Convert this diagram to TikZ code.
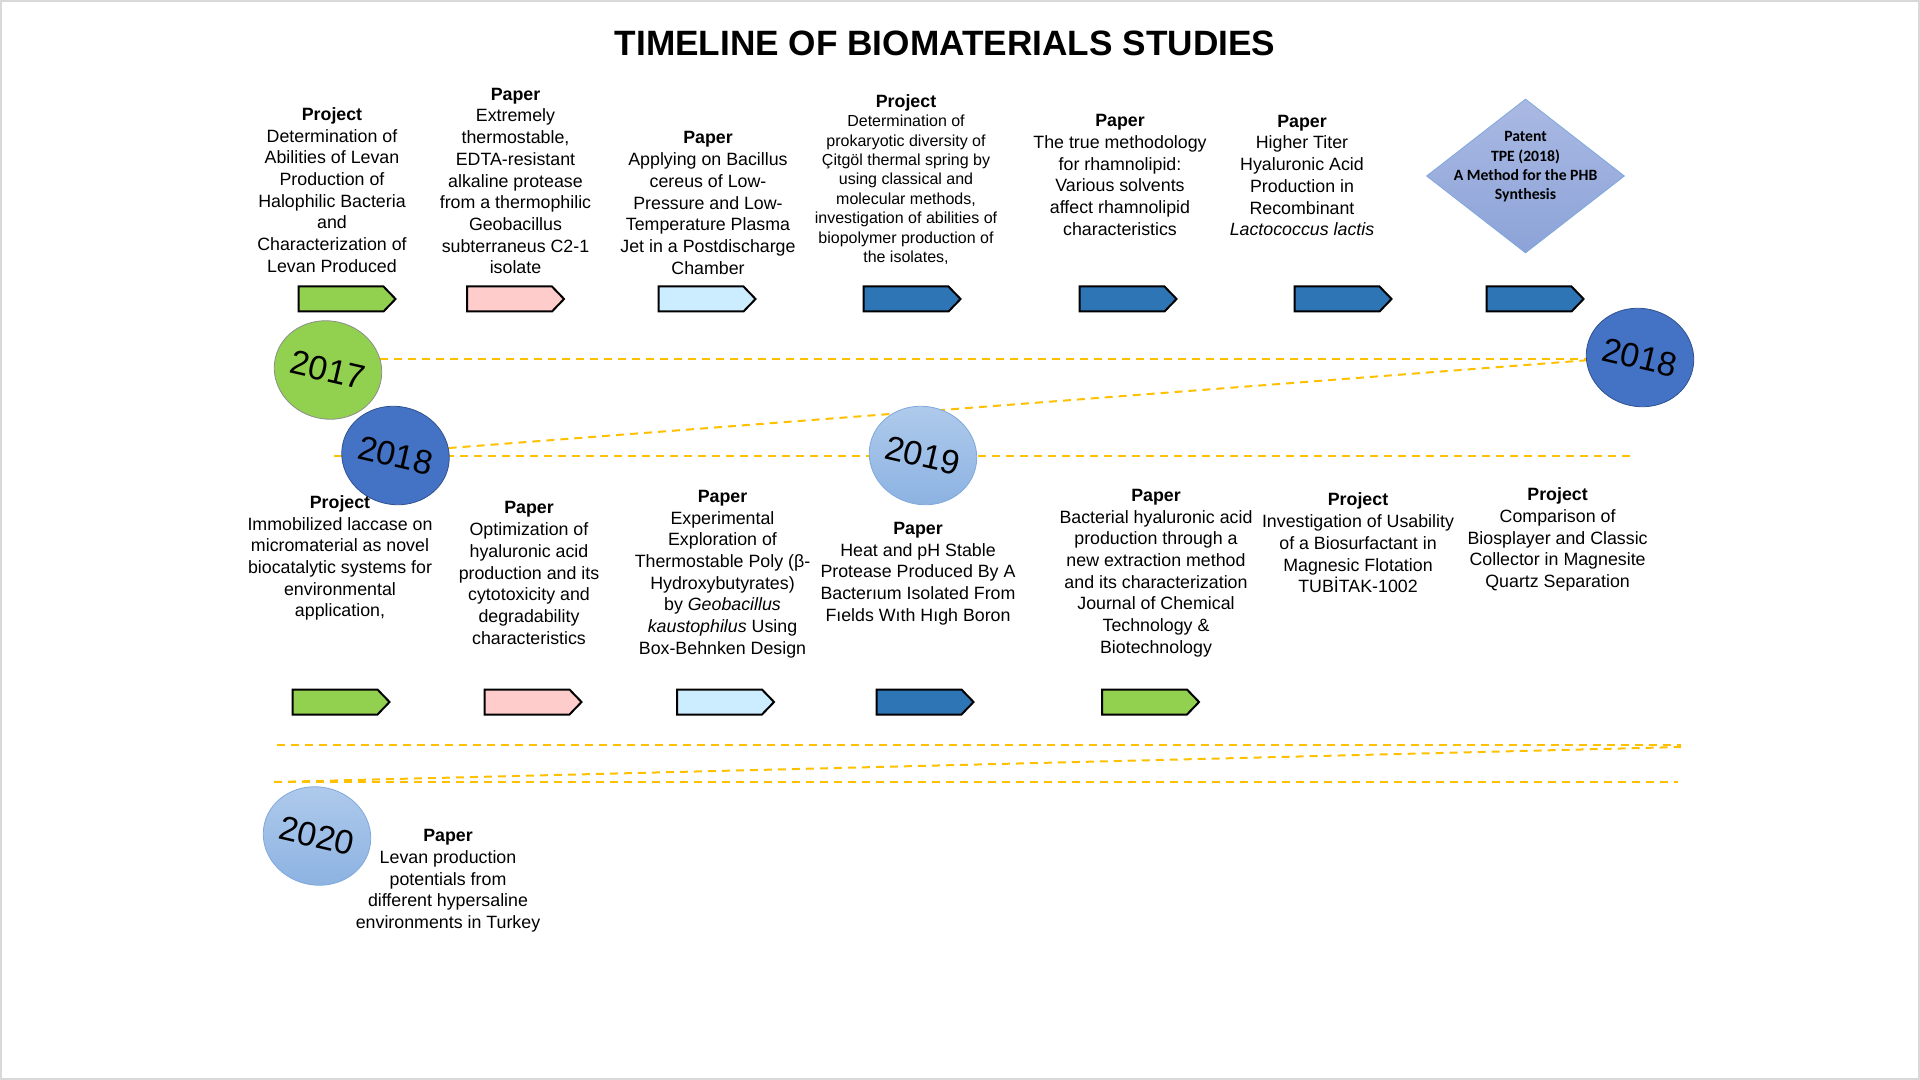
\documentclass[tikz,border=0pt]{standalone}
\usepackage{fontspec}
\setmainfont{Liberation Sans}
\newfontfamily\calibri{Carlito}
\usepackage{tikz}
\usetikzlibrary{shapes.geometric, shapes.symbols, positioning, backgrounds}
\definecolor{tagGreen}{HTML}{92D050}
\definecolor{tagPink}{HTML}{FFCCCC}
\definecolor{tagSky}{HTML}{CCECFF}
\definecolor{tagBlue}{HTML}{2E75B6}
\definecolor{yearBlue}{HTML}{4472C4}
\definecolor{yearEdge}{HTML}{2F528F}
\definecolor{paleTop}{HTML}{B0CBEC}
\definecolor{paleBot}{HTML}{8DB3E2}
\definecolor{paleEdge}{HTML}{7FA8DC}
\definecolor{gemTop}{HTML}{AAB9E3}
\definecolor{gemBot}{HTML}{8CA3D8}
\definecolor{dashGold}{HTML}{FFC000}
\tikzstyle{entry} = [align=center, inner sep=0pt, font=\fontsize{8.9}{10.85}\selectfont]
\tikzstyle{tag} = [signal, signal to=east, signal pointer angle=92, minimum width=48.5pt, minimum height=12.5pt, inner sep=0pt, draw=black, line width=1pt]
\tikzstyle{year} = [ellipse, minimum width=54pt, minimum height=49pt, inner sep=0pt, rotate=-13, font=\fontsize{17}{17}\selectfont]
\tikzstyle{timeline} = [draw=dashGold, line width=1pt, dash pattern=on 4pt off 3pt]

\begin{document}
\begin{tikzpicture}[x=0.5pt, y=-0.5pt]
        \useasboundingbox (0,0) rectangle (1920,1080);
        \draw [black!15, line width=0.6pt] (1,1) rectangle (1919,1079);

        % Title
        \node (title) at (945,43) {\fontsize{17.6}{20}\selectfont\bfseries TIMELINE OF BIOMATERIALS STUDIES};

        % Upper row
        \node (t1) [entry] at (332,190) {\textbf{Project}\\Determination of\\Abilities of Levan\\Production of\\Halophilic Bacteria\\and\\Characterization of\\Levan Produced};
        \node (t2) [entry] at (515.5,181) {\textbf{Paper}\\Extremely\\thermostable,\\EDTA-resistant\\alkaline protease\\from a thermophilic\\Geobacillus\\subterraneus C2-1\\isolate};
        \node (t3) [entry] at (708,203) {\textbf{Paper}\\Applying on Bacillus\\cereus of Low-\\Pressure and Low-\\Temperature Plasma\\Jet in a Postdischarge\\Chamber};
        \node (t4) [entry, font=\fontsize{8}{9.7}\selectfont] at (906,179.5) {{\fontsize{8.9}{9.7}\selectfont\bfseries Project}\\Determination of\\prokaryotic diversity of\\Çitgöl thermal spring by\\using classical and\\molecular methods,\\investigation of abilities of\\biopolymer production of\\the isolates,};
        \node (t5) [entry] at (1120,175) {\textbf{Paper}\\The true methodology\\for rhamnolipid:\\Various solvents\\affect rhamnolipid\\characteristics};
        \node (t6) [entry] at (1302,175.5) {\textbf{Paper}\\Higher Titer\\Hyaluronic Acid\\Production in\\Recombinant\\\textit{Lactococcus lactis}};
        \node (patent) [diamond, minimum width=99pt, minimum height=77pt, inner sep=0pt, draw=paleEdge, top color=gemTop, bottom color=gemBot] at (1525.5,176) {};
        \node (patentlbl) [align=center, inner sep=0pt, font=\calibri\bfseries\fontsize{7.85}{9.65}\selectfont] at (1525.5,167) {Patent\\TPE (2018)\\A Method for the PHB\\Synthesis};

        \node (a1) [tag, fill=tagGreen] at (341,299) {};
        \node (a2) [tag, fill=tagPink] at (509.5,299) {};
        \node (a3) [tag, fill=tagSky] at (701,299) {};
        \node (a4) [tag, fill=tagBlue] at (906,299) {};
        \node (a5) [tag, fill=tagBlue] at (1122,299) {};
        \node (a6) [tag, fill=tagBlue] at (1337,299) {};
        \node (a7) [tag, fill=tagBlue] at (1529,299) {};

        % Years
        \node (y2017) [year, fill=tagGreen, draw=black!45] at (328,370) {2017};
        \node (y2018a) [year, fill=yearBlue, draw=yearEdge] at (395.5,455.5) {2018};
        \node (y2019) [year, top color=paleTop, bottom color=paleBot, draw=paleEdge] at (923,455.5) {2019};
        \node (y2018b) [year, fill=yearBlue, draw=yearEdge] at (1640,357.5) {2018};
        \node (y2020) [year, top color=paleTop, bottom color=paleBot, draw=paleEdge] at (317,836) {2020};

        % Lower row
        \node (b1) [entry] at (340,558) {\textbf{Project}\\Immobilized laccase on\\micromaterial as novel\\biocatalytic systems for\\environmental\\application,};
        \node (b2) [entry] at (529,573) {\textbf{Paper}\\Optimization of\\hyaluronic acid\\production and its\\cytotoxicity and\\degradability\\characteristics};
        \node (b3) [entry] at (722.5,574) {\textbf{Paper}\\Experimental\\Exploration of\\Thermostable Poly (β-\\Hydroxybutyrates)\\by \textit{Geobacillus}\\\textit{kaustophilus} Using\\Box-Behnken Design};
        \node (b4) [entry] at (918,573.5) {\textbf{Paper}\\Heat and pH Stable\\Protease Produced By A\\Bacterıum Isolated From\\Fıelds Wıth Hıgh Boron};
        \node (b5) [entry] at (1156,573) {\textbf{Paper}\\Bacterial hyaluronic acid\\production through a\\new extraction method\\and its characterization\\Journal of Chemical\\Technology \&\\Biotechnology};
        \node (b6) [entry] at (1358,543) {\textbf{Project}\\Investigation of Usability\\of a Biosurfactant in\\Magnesic Flotation\\TUBİTAK-1002};
        \node (b7) [entry] at (1557.6,539.5) {\textbf{Project}\\Comparison of\\Biosplayer and Classic\\Collector in Magnesite\\Quartz Separation};
        \node (b8) [entry] at (448,881) {\textbf{Paper}\\Levan production\\potentials from\\different hypersaline\\environments in Turkey};

        \node (c1) [tag, fill=tagGreen] at (335,702) {};
        \node (c2) [tag, fill=tagPink] at (527,702) {};
        \node (c3) [tag, fill=tagSky] at (719.5,702) {};
        \node (c4) [tag, fill=tagBlue] at (919,702) {};
        \node (c5) [tag, fill=tagGreen] at (1144.5,702) {};

        % Dashed links
        \coordinate (m1) at (334,455.5);
        \coordinate (m2) at (1632,455.5);
        \coordinate (n1) at (277,745);
        \coordinate (n2) at (1681,745);
        \coordinate (n3) at (274,782);
        \coordinate (n4) at (1681,747);
        \coordinate (n5) at (1678,782);
        \begin{scope}[on background layer]
        \draw [timeline] (y2017.25) -- (y2018b.196 |- y2017.25);
        \draw [timeline] (y2018a.21) -- (y2018b.196);
        \draw [timeline] (m1) -- (m2);
        \draw [timeline] (n1) -- (n2);
        \draw [timeline] (n3) -- (n4);
        \draw [timeline] (n3) -- (n5);
        \end{scope}
      \end{tikzpicture}
\end{document}
